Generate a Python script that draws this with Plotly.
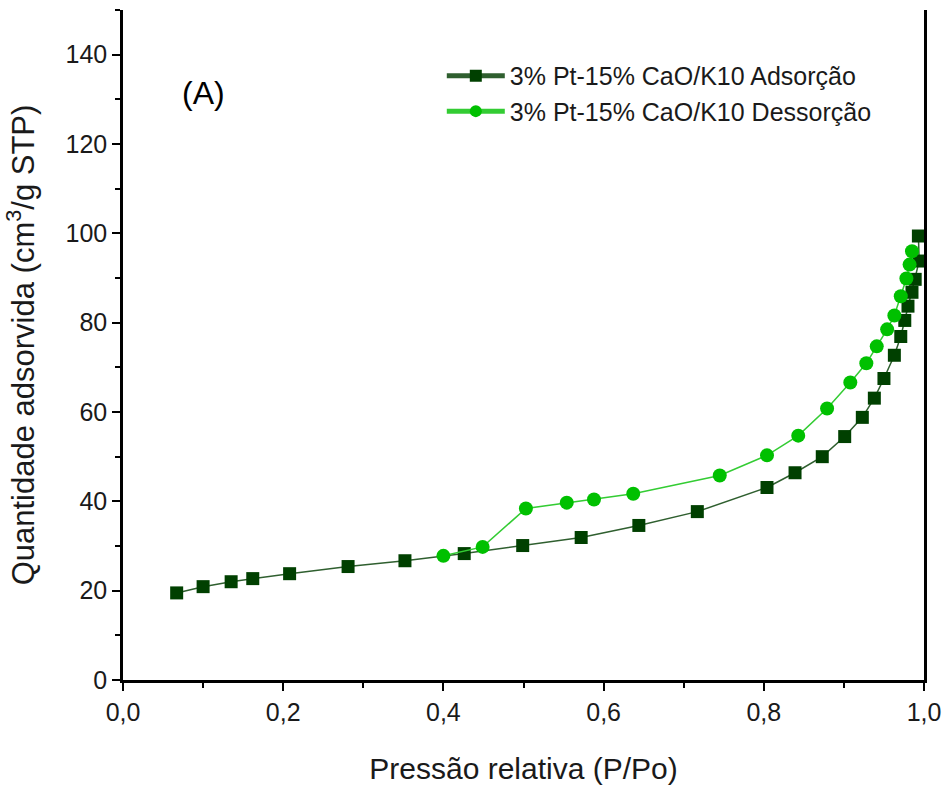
import plotly.graph_objects as go

# Adsorption branch
ads_x = [0.067, 0.100, 0.135, 0.162, 0.208, 0.281, 0.352, 0.426, 0.499, 0.572,
         0.644, 0.717, 0.804, 0.839, 0.873, 0.901, 0.923, 0.938, 0.950, 0.963,
         0.971, 0.976, 0.980, 0.985, 0.989, 0.994, 0.993]
ads_y = [19.5, 20.9, 22.0, 22.7, 23.8, 25.4, 26.7, 28.3, 30.1, 31.9,
         34.6, 37.7, 43.1, 46.4, 50.0, 54.5, 58.8, 63.1, 67.5, 72.7,
         76.9, 80.5, 83.7, 86.8, 89.7, 93.8, 99.4]

# Desorption branch
des_x = [0.400, 0.449, 0.503, 0.554, 0.588, 0.637, 0.745, 0.804, 0.843, 0.879,
         0.908, 0.928, 0.941, 0.954, 0.963, 0.971, 0.978, 0.982, 0.985]
des_y = [27.8, 29.8, 38.4, 39.7, 40.4, 41.7, 45.8, 50.3, 54.7, 60.8,
         66.6, 70.9, 74.7, 78.5, 81.6, 85.9, 89.9, 93.0, 96.0]

x_ticks = [0.0, 0.2, 0.4, 0.6, 0.8, 1.0]
y_ticks = [0, 20, 40, 60, 80, 100, 120, 140]

FONT = "Liberation Sans, Arial, sans-serif"
TXT = "#1a1a1a"

fig = go.Figure()
fig.add_trace(go.Scatter(
    x=ads_x, y=ads_y, mode="lines+markers",
    name="3% Pt-15% CaO/K10 Adsorção",
    line=dict(color="#2f5f2f", width=1.5),
    marker=dict(symbol="square", size=13, color="#004000",
                line=dict(color="#004000", width=0)),
    cliponaxis=False,
))
fig.add_trace(go.Scatter(
    x=des_x, y=des_y, mode="lines+markers",
    name="3% Pt-15% CaO/K10 Dessorção",
    line=dict(color="#33cc33", width=1.5),
    marker=dict(symbol="circle", size=14, color="#00c000",
                line=dict(color="#00c000", width=0)),
    cliponaxis=False,
))

fig.add_annotation(x=0.1, y=131.5, text="(A)", showarrow=False,
                   font=dict(family=FONT, size=32, color="black"))

fig.update_layout(
    width=946, height=787,
    margin=dict(l=123, r=22, t=10, b=107),
    paper_bgcolor="white", plot_bgcolor="white",
    separators=",.",
    font=dict(family=FONT, color=TXT),
    showlegend=True,
    legend=dict(x=0.398, y=0.936, xanchor="left", yanchor="top",
                bgcolor="rgba(0,0,0,0)", itemwidth=58,
                font=dict(family=FONT, size=25, color=TXT),
                tracegroupgap=0, itemsizing="constant"),
)
fig.update_xaxes(
    range=[0, 1.0], tickvals=x_ticks, tickformat=".1f", automargin=False,
    showgrid=False, zeroline=False,
    showline=True, linecolor="black", linewidth=2.5, mirror=False,
    ticks="outside", ticklen=8, tickwidth=2, tickcolor="black",
    minor=dict(dtick=0.1, ticks="outside", ticklen=5, tickwidth=2, tickcolor="black"),
    tickfont=dict(family=FONT, size=25, color=TXT),
    title=dict(text="Pressão relativa (P/Po)", standoff=34,
               font=dict(family=FONT, size=30, color=TXT)),
)
fig.update_yaxes(
    range=[0, 150], tickvals=y_ticks, automargin=False,
    showgrid=False, zeroline=False,
    showline=True, linecolor="black", linewidth=2.5, mirror=True,
    ticks="outside", ticklen=8, tickwidth=2, tickcolor="black",
    minor=dict(dtick=10, ticks="outside", ticklen=5, tickwidth=2, tickcolor="black"),
    tickfont=dict(family=FONT, size=25, color=TXT),
    title=dict(text="Quantidade adsorvida (cm<sup>3</sup>/g STP)", standoff=22,
               font=dict(family=FONT, size=31, color=TXT)),
)

fig.write_html("out.html")
